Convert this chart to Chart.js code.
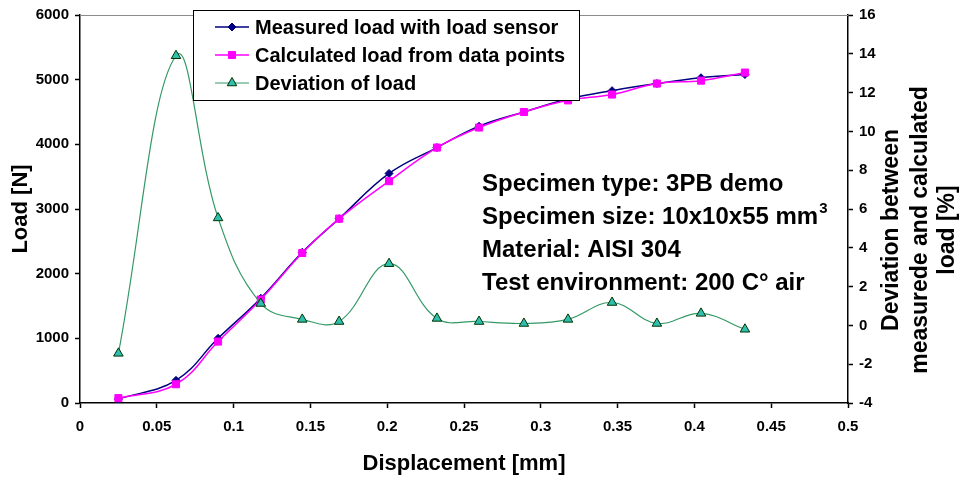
<!DOCTYPE html>
<html>
<head>
<meta charset="utf-8">
<script src="https://cdn.jsdelivr.net/npm/chart.js@4.4.1/dist/chart.umd.min.js"></script>
<style>
  html, body { margin: 0; padding: 0; background: #fff; }
  #wrap { width: 962px; height: 477px; }
</style>
</head>
<body>
<div id="wrap"><canvas id="loadChart" width="962" height="477"></canvas></div>
<script>
// displacement of each recorded step [mm]
const displacement = [0.025, 0.0625, 0.0899, 0.1177, 0.1447, 0.1687, 0.2012, 0.2324, 0.2598, 0.289, 0.3177, 0.3464, 0.3756, 0.4043, 0.4329];
// load from the sensor and load rebuilt from the data points [N]
const measuredLoad = [60, 350, 1000, 1620, 2330, 2850, 3550, 3950, 4280, 4500, 4700, 4830, 4940, 5030, 5080];
const calculatedLoad = [75, 290, 950, 1600, 2320, 2850, 3430, 3950, 4260, 4500, 4680, 4770, 4940, 4985, 5110];
// deviation between the two [%]
const deviation = [-1.44, 13.9, 5.54, 1.13, 0.31, 0.2, 3.18, 0.36, 0.2, 0.1, 0.31, 1.18, 0.1, 0.62, -0.2];

const xTickLabels = ['0', '0.05', '0.1', '0.15', '0.2', '0.25', '0.3', '0.35', '0.4', '0.45', '0.5'];
const seriesNames = ['Measured load with load sensor', 'Calculated load from data points', 'Deviation of load'];
const infoLines = ['Specimen type: 3PB demo', 'Specimen size: 10x10x55 mm', 'Material: AISI 304', 'Test environment: 200 C° air'];
const rightTitle = ['Deviation between', 'measurede and calculated', 'load [%]'];

const FONT = "'Liberation Sans', Arial, sans-serif";

function pts(ys) {
  return displacement.map((x, i) => ({ x: x, y: ys[i] }));
}

// floating legend, top frame line, right axis title and specimen info
const overlay = {
  id: 'overlay',
  afterDraw(chart) {
    const ctx = chart.ctx;
    const area = chart.chartArea;
    ctx.save();

    ctx.strokeStyle = '#8c8c8c';
    ctx.lineWidth = 1;
    ctx.beginPath();
    ctx.moveTo(area.left, area.top + 0.5);
    ctx.lineTo(area.right, area.top + 0.5);
    ctx.stroke();

    // legend box
    const bx = 193, by = 10, bw = 386, bh = 90;
    ctx.fillStyle = '#fff';
    ctx.fillRect(bx, by, bw, bh);
    ctx.strokeStyle = '#000';
    ctx.lineWidth = 1;
    ctx.strokeRect(bx + 0.5, by + 0.5, bw, bh);

    ctx.font = 'bold 20px ' + FONT;
    ctx.textBaseline = 'middle';
    ctx.textAlign = 'left';
    chart.data.datasets.forEach((ds, i) => {
      const y = 27 + i * 28;
      ctx.strokeStyle = ds.borderColor;
      ctx.lineWidth = ds.borderWidth;
      ctx.beginPath();
      ctx.moveTo(215, y);
      ctx.lineTo(249, y);
      ctx.stroke();
      ctx.fillStyle = ds.pointBackgroundColor;
      ctx.strokeStyle = ds.pointBorderColor;
      ctx.lineWidth = ds.pointBorderWidth;
      Chart.helpers.drawPoint(ctx, {
        pointStyle: ds.pointStyle,
        radius: ds.pointRadius,
        borderWidth: ds.pointBorderWidth
      }, 232, y);
      ctx.fillStyle = '#000';
      ctx.fillText(seriesNames[i], 255, y + 1);
    });

    // right axis title, reading upwards
    ctx.font = 'bold 23px ' + FONT;
    ctx.textAlign = 'center';
    ctx.textBaseline = 'middle';
    ctx.fillStyle = '#000';
    [892, 921, 948].forEach((x, i) => {
      ctx.save();
      ctx.translate(x, 230);
      ctx.rotate(-Math.PI / 2);
      ctx.fillText(rightTitle[i], 0, 0);
      ctx.restore();
    });

    // specimen info
    ctx.font = 'bold 24px ' + FONT;
    ctx.textAlign = 'left';
    ctx.textBaseline = 'alphabetic';
    infoLines.forEach((t, i) => {
      const y = 191 + i * 33;
      ctx.fillText(t, 482, y);
      if (i === 1) {
        const w = ctx.measureText(t).width;
        ctx.font = 'bold 15px ' + FONT;
        ctx.fillText('3', 482 + w + 1, y - 11);
        ctx.font = 'bold 24px ' + FONT;
      }
    });
    ctx.restore();
  }
};

const ctx = document.getElementById('loadChart').getContext('2d');
const chart = new Chart(ctx, {
  type: 'line',
  data: {
    datasets: [{
      label: seriesNames[0],
      data: pts(measuredLoad),
      yAxisID: 'y',
      borderColor: '#000080',
      borderWidth: 1.5,
      pointStyle: 'rectRot',
      pointRadius: 4,
      pointBackgroundColor: '#000080',
      pointBorderColor: '#000080',
      pointBorderWidth: 1,
      tension: 0.4,
      order: 2
    }, {
      label: seriesNames[1],
      data: pts(calculatedLoad),
      yAxisID: 'y',
      borderColor: '#ff00ff',
      borderWidth: 1.5,
      pointStyle: 'rect',
      pointRadius: 5,
      pointBackgroundColor: '#ff00ff',
      pointBorderColor: '#ff00ff',
      pointBorderWidth: 1,
      tension: 0.4,
      order: 1
    }, {
      label: seriesNames[2],
      data: pts(deviation),
      yAxisID: 'y2',
      borderColor: '#339966',
      borderWidth: 1.2,
      pointStyle: 'triangle',
      pointRadius: 5.5,
      pointBackgroundColor: '#2fbfb0',
      pointBorderColor: '#003300',
      pointBorderWidth: 1,
      tension: 0.4,
      order: 0
    }]
  },
  options: {
    responsive: false,
    animation: false,
    layout: { padding: { top: 13, right: 0, left: 0, bottom: 0 } },
    plugins: {
      legend: { display: false },
      tooltip: { enabled: false }
    },
    scales: {
      x: {
        type: 'linear',
        min: 0,
        max: 0.5,
        afterFit(s) { s.height = 74; },
        afterBuildTicks(s) {
          s.ticks = xTickLabels.map(v => ({ value: parseFloat(v) }));
        },
        ticks: {
          color: '#000',
          font: { family: FONT, size: 15, weight: 'bold' },
          padding: 10,
          maxRotation: 0,
          callback: (v, i) => xTickLabels[i]
        },
        grid: { drawOnChartArea: false, tickLength: 5, color: '#000', tickWidth: 1.5 },
        border: { color: '#000', width: 1.5 },
        title: {
          display: true,
          text: 'Displacement [mm]',
          color: '#000',
          font: { family: FONT, size: 22, weight: 'bold' },
          padding: { top: 4, bottom: 0 }
        }
      },
      y: {
        position: 'left',
        min: 0,
        max: 6000,
        afterFit(s) { s.width = 80; },
        ticks: {
          stepSize: 1000,
          color: '#000',
          font: { family: FONT, size: 15, weight: 'bold' },
          padding: 6,
          callback: v => String(v)
        },
        grid: { drawOnChartArea: false, tickLength: 5, color: '#000', tickWidth: 1.5 },
        border: { color: '#000', width: 1.5 },
        title: {
          display: true,
          text: 'Load [N]',
          color: '#000',
          font: { family: FONT, size: 22, weight: 'bold' },
          padding: { top: 8, bottom: 0 }
        }
      },
      y2: {
        position: 'right',
        min: -4,
        max: 16,
        afterFit(s) { s.width = 114; },
        ticks: {
          stepSize: 2,
          color: '#000',
          font: { family: FONT, size: 15, weight: 'bold' },
          padding: 6
        },
        grid: { drawOnChartArea: false, tickLength: 5, color: '#000', tickWidth: 1.5 },
        border: { color: '#000', width: 1.5 }
      }
    }
  },
  plugins: [overlay]
});
</script>
</body>
</html>
